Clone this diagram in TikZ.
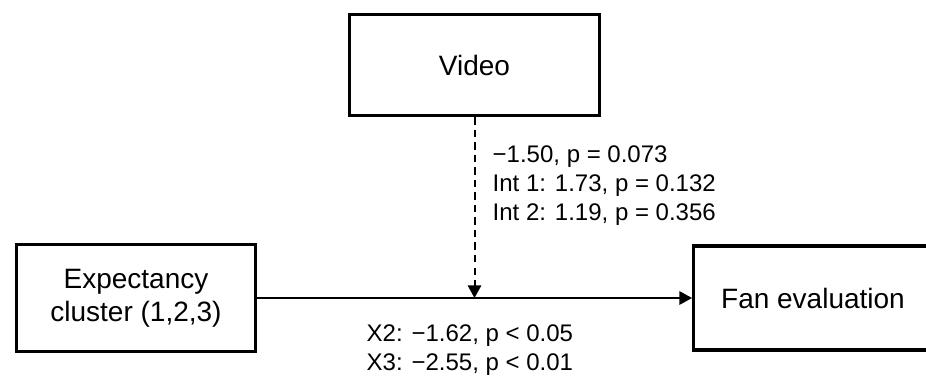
\documentclass[tikz,border=0pt]{standalone}
\usepackage{fontspec}
\setmainfont{Liberation Sans}
\usetikzlibrary{arrows.meta}
\tikzstyle{arrow} = [line width=1.5pt,-{Triangle[length=9.5pt,width=10pt]}]
\tikzstyle{varbox} = [draw, line width=2.4pt, rectangle, align=center, text centered, font=\fontsize{21}{25}\selectfont]
\tikzstyle{coef} = [anchor=west, align=left, font=\fontsize{18}{22}\selectfont]

\begin{document}
\begin{tikzpicture}[x=0.75pt,y=-0.75pt]
        \useasboundingbox (0,0) rectangle (926,383);

        %variables
        \node at (474.5,65) [varbox, minimum width=187.5pt, minimum height=75.75pt] (video) {Video};
        \node at (136,298) [varbox, minimum width=179pt, minimum height=80pt] (cluster) {Expectancy\\cluster (1,2,3)};
        \node at (813,298) [varbox, minimum width=179pt, minimum height=78pt] (fan) {Fan evaluation};

        %paths
        \coordinate (mod) at (video.south |- cluster.east);
        \draw [arrow] (cluster.east) -- (fan.west);
        \draw [arrow, dash pattern=on 5.6pt off 3.8pt] (video.south) -- (mod);

        %coefficients
        \node at (488,185.5) [coef] (modcoef) {−1.50, p = 0.073\\Int 1: 1.73, p = 0.132\\Int 2: 1.19, p = 0.356};
        \node at (362,350) [coef] (maincoef) {X2: −1.62, p < 0.05\\X3: −2.55, p < 0.01};

\end{tikzpicture}
\end{document}
